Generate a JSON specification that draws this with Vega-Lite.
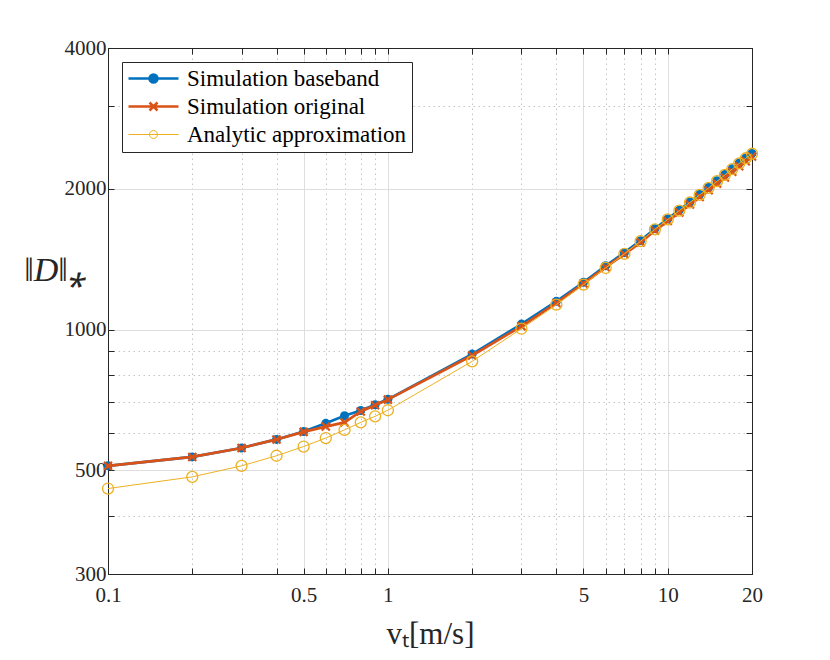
{
  "$schema": "https://vega.github.io/schema/vega-lite/v6.json",
  "width": 644,
  "height": 526,
  "autosize": {"type": "none"},
  "padding": {"left": 108, "top": 48, "right": 78, "bottom": 86},
  "background": "#ffffff",
  "config": {
    "view": {"stroke": "#262626", "strokeWidth": 1},
    "font": "Liberation Serif, serif"
  },
  "data": {
    "values": [
      {"v": 0.1, "series": "Simulation baseband", "D": 511},
      {"v": 0.2, "series": "Simulation baseband", "D": 534},
      {"v": 0.3, "series": "Simulation baseband", "D": 558},
      {"v": 0.4, "series": "Simulation baseband", "D": 582},
      {"v": 0.5, "series": "Simulation baseband", "D": 605},
      {"v": 0.6, "series": "Simulation baseband", "D": 630},
      {"v": 0.7, "series": "Simulation baseband", "D": 654},
      {"v": 0.8, "series": "Simulation baseband", "D": 671},
      {"v": 0.9, "series": "Simulation baseband", "D": 690},
      {"v": 1, "series": "Simulation baseband", "D": 709},
      {"v": 2, "series": "Simulation baseband", "D": 886},
      {"v": 3, "series": "Simulation baseband", "D": 1027},
      {"v": 4, "series": "Simulation baseband", "D": 1149},
      {"v": 5, "series": "Simulation baseband", "D": 1262},
      {"v": 6, "series": "Simulation baseband", "D": 1369},
      {"v": 7, "series": "Simulation baseband", "D": 1460},
      {"v": 8, "series": "Simulation baseband", "D": 1549},
      {"v": 9, "series": "Simulation baseband", "D": 1643},
      {"v": 10, "series": "Simulation baseband", "D": 1724},
      {"v": 11, "series": "Simulation baseband", "D": 1800},
      {"v": 12, "series": "Simulation baseband", "D": 1873},
      {"v": 13, "series": "Simulation baseband", "D": 1944},
      {"v": 14, "series": "Simulation baseband", "D": 2013},
      {"v": 15, "series": "Simulation baseband", "D": 2080},
      {"v": 16, "series": "Simulation baseband", "D": 2145},
      {"v": 17, "series": "Simulation baseband", "D": 2208},
      {"v": 18, "series": "Simulation baseband", "D": 2270},
      {"v": 19, "series": "Simulation baseband", "D": 2328},
      {"v": 20, "series": "Simulation baseband", "D": 2380},
      {"v": 0.1, "series": "Simulation original", "D": 511},
      {"v": 0.2, "series": "Simulation original", "D": 534},
      {"v": 0.3, "series": "Simulation original", "D": 558},
      {"v": 0.4, "series": "Simulation original", "D": 582},
      {"v": 0.5, "series": "Simulation original", "D": 604},
      {"v": 0.6, "series": "Simulation original", "D": 620},
      {"v": 0.7, "series": "Simulation original", "D": 633},
      {"v": 0.8, "series": "Simulation original", "D": 668},
      {"v": 0.9, "series": "Simulation original", "D": 689},
      {"v": 1, "series": "Simulation original", "D": 708},
      {"v": 2, "series": "Simulation original", "D": 880},
      {"v": 3, "series": "Simulation original", "D": 1016},
      {"v": 4, "series": "Simulation original", "D": 1139},
      {"v": 5, "series": "Simulation original", "D": 1254},
      {"v": 6, "series": "Simulation original", "D": 1359},
      {"v": 7, "series": "Simulation original", "D": 1449},
      {"v": 8, "series": "Simulation original", "D": 1536},
      {"v": 9, "series": "Simulation original", "D": 1628},
      {"v": 10, "series": "Simulation original", "D": 1706},
      {"v": 11, "series": "Simulation original", "D": 1780},
      {"v": 12, "series": "Simulation original", "D": 1851},
      {"v": 13, "series": "Simulation original", "D": 1920},
      {"v": 14, "series": "Simulation original", "D": 1986},
      {"v": 15, "series": "Simulation original", "D": 2051},
      {"v": 16, "series": "Simulation original", "D": 2113},
      {"v": 17, "series": "Simulation original", "D": 2174},
      {"v": 18, "series": "Simulation original", "D": 2234},
      {"v": 19, "series": "Simulation original", "D": 2290},
      {"v": 20, "series": "Simulation original", "D": 2344},
      {"v": 0.1, "series": "Analytic approximation", "D": 457},
      {"v": 0.2, "series": "Analytic approximation", "D": 484},
      {"v": 0.3, "series": "Analytic approximation", "D": 511},
      {"v": 0.4, "series": "Analytic approximation", "D": 537},
      {"v": 0.5, "series": "Analytic approximation", "D": 562},
      {"v": 0.6, "series": "Analytic approximation", "D": 586},
      {"v": 0.7, "series": "Analytic approximation", "D": 610},
      {"v": 0.8, "series": "Analytic approximation", "D": 633},
      {"v": 0.9, "series": "Analytic approximation", "D": 652},
      {"v": 1, "series": "Analytic approximation", "D": 672},
      {"v": 2, "series": "Analytic approximation", "D": 855},
      {"v": 3, "series": "Analytic approximation", "D": 1004},
      {"v": 4, "series": "Analytic approximation", "D": 1130},
      {"v": 5, "series": "Analytic approximation", "D": 1247},
      {"v": 6, "series": "Analytic approximation", "D": 1354},
      {"v": 7, "series": "Analytic approximation", "D": 1451},
      {"v": 8, "series": "Analytic approximation", "D": 1545},
      {"v": 9, "series": "Analytic approximation", "D": 1638},
      {"v": 10, "series": "Analytic approximation", "D": 1720},
      {"v": 11, "series": "Analytic approximation", "D": 1796},
      {"v": 12, "series": "Analytic approximation", "D": 1869},
      {"v": 13, "series": "Analytic approximation", "D": 1940},
      {"v": 14, "series": "Analytic approximation", "D": 2009},
      {"v": 15, "series": "Analytic approximation", "D": 2076},
      {"v": 16, "series": "Analytic approximation", "D": 2141},
      {"v": 17, "series": "Analytic approximation", "D": 2204},
      {"v": 18, "series": "Analytic approximation", "D": 2266},
      {"v": 19, "series": "Analytic approximation", "D": 2324},
      {"v": 20, "series": "Analytic approximation", "D": 2376}
    ]
  },
  "encoding": {
    "color": {
      "field": "series",
      "type": "nominal",
      "scale": {
        "domain": ["Simulation baseband", "Simulation original", "Analytic approximation"],
        "range": ["#0072BD", "#D95319", "#EDB120"]
      },
      "legend": {
        "title": null,
        "orient": "none",
        "legendX": 14,
        "legendY": 14,
        "fillColor": "#ffffff",
        "strokeColor": "#262626",
        "padding": 5,
        "symbolType": "M-1,0H4",
        "symbolSize": 400,
        "symbolStrokeWidth": 2.5,
        "labelFont": "Liberation Serif, serif",
        "labelFontSize": 23,
        "labelColor": "#000000",
        "labelLimit": 0,
        "labelOffset": 37,
        "rowPadding": 4,
        "encode": {
          "symbols": {
            "update": {
              "shape": {"signal": "datum.value === 'Simulation original' ? 'M-1,0H4M1.1,-0.4L1.9,0.4M1.1,0.4L1.9,-0.4' : 'M-1,0H4M1.9,0A0.4,0.4,0,1,1,1.1,0A0.4,0.4,0,1,1,1.9,0Z'"},
              "fill": {"signal": "datum.value === 'Simulation baseband' ? '#0072BD' : 'transparent'"},
              "fillOpacity": {"signal": "datum.value === 'Simulation baseband' ? 1 : 0"},
              "stroke": {"signal": "datum.value === 'Simulation baseband' ? '#0072BD' : datum.value === 'Simulation original' ? '#D95319' : '#EDB120'"},
              "strokeWidth": {"signal": "datum.value === 'Analytic approximation' ? 1 : 2.5"},
              "opacity": {"value": 1}
            }
          }
        }
      }
    }
  },
  "resolve": {"axis": {"x": "independent", "y": "independent"}},
  "layer": [
    {
      "transform": [{"filter": "datum.series === 'Simulation baseband'"}],
      "mark": {"type": "line", "strokeWidth": 2.7},
      "encoding": {
        "x": {
          "field": "v",
          "type": "quantitative",
          "scale": {"type": "log", "domain": [0.1, 20], "nice": false},
          "axis": {
            "orient": "bottom",
            "title": "vₜ[m/s]",
            "titleFont": "Liberation Serif, serif",
            "titleFontSize": 31,
            "titleFontWeight": "normal",
            "titleColor": "#262626",
            "titleY": 60,
            "titleBaseline": "middle",
            "values": [0.1, 0.2, 0.3, 0.4, 0.5, 0.6, 0.7, 0.8, 0.9, 1, 2, 3, 4, 5, 6, 7, 8, 9, 10, 20],
            "labelExpr": "indexof([0.1, 0.5, 1, 5, 10, 20], datum.value) >= 0 ? format(datum.value, '~g') : ''",
            "labelFont": "Liberation Serif, serif",
            "labelFontSize": 21,
            "labelColor": "#262626",
            "labelFlush": false,
            "labelOverlap": false,
            "labelPadding": 16,
            "domainColor": "#262626",
            "tickColor": "#262626",
            "tickSize": -6,
            "grid": true,
            "gridOpacity": {"condition": {"test": "datum.value == 0.1 || datum.value == 20", "value": 0}, "value": 1},
            "gridColor": {"condition": {"test": "indexof([0.5, 1, 5, 10], datum.value) >= 0", "value": "#dedede"}, "value": "#c4c4c4"},
            "gridDash": {"condition": {"test": "indexof([0.5, 1, 5, 10], datum.value) >= 0", "value": []}, "value": [1.5, 3.5]}
          }
        },
        "y": {
          "field": "D",
          "type": "quantitative",
          "scale": {"type": "log", "domain": [300, 4000], "nice": false},
          "axis": {
            "orient": "left",
            "title": "‖D‖⁎",
            "titleFont": "Liberation Serif, serif",
            "titleFontSize": 34,
            "titleFontStyle": "italic",
            "titleFontWeight": "normal",
            "titleColor": "#262626",
            "titleAngle": 0,
            "titleX": -53,
            "titleY": 222,
            "titleAlign": "center",
            "titleBaseline": "middle",
            "values": [300, 400, 500, 600, 700, 800, 900, 1000, 2000, 3000, 4000],
            "labelExpr": "indexof([300, 500, 1000, 2000, 4000], datum.value) >= 0 ? format(datum.value, 'd') : ''",
            "labelFont": "Liberation Serif, serif",
            "labelFontSize": 21,
            "labelColor": "#262626",
            "labelFlush": false,
            "labelOverlap": false,
            "labelPadding": 8,
            "domainColor": "#262626",
            "tickColor": "#262626",
            "tickSize": -6,
            "grid": true,
            "gridOpacity": {"condition": {"test": "datum.value == 300 || datum.value == 4000", "value": 0}, "value": 1},
            "gridColor": {"condition": {"test": "indexof([500, 1000, 2000], datum.value) >= 0", "value": "#dedede"}, "value": "#c4c4c4"},
            "gridDash": {"condition": {"test": "indexof([500, 1000, 2000], datum.value) >= 0", "value": []}, "value": [1.5, 3.5]}
          }
        }
      }
    },
    {
      "transform": [{"filter": "datum.series === 'Simulation baseband'"}],
      "mark": {"type": "point", "shape": "circle", "filled": true, "size": 81, "opacity": 1},
      "encoding": {
        "x": {
          "field": "v",
          "type": "quantitative",
          "scale": {"type": "log", "domain": [0.1, 20], "nice": false},
          "axis": {
            "orient": "top",
            "title": null,
            "values": [0.1, 0.2, 0.3, 0.4, 0.5, 0.6, 0.7, 0.8, 0.9, 1, 2, 3, 4, 5, 6, 7, 8, 9, 10, 20],
            "labels": false,
            "grid": false,
            "domainColor": "#262626",
            "tickColor": "#262626",
            "tickSize": -6
          }
        },
        "y": {
          "field": "D",
          "type": "quantitative",
          "scale": {"type": "log", "domain": [300, 4000], "nice": false},
          "axis": {
            "orient": "right",
            "title": null,
            "values": [300, 400, 500, 600, 700, 800, 900, 1000, 2000, 3000, 4000],
            "labels": false,
            "grid": false,
            "domainColor": "#262626",
            "tickColor": "#262626",
            "tickSize": -6
          }
        }
      }
    },
    {
      "transform": [{"filter": "datum.series === 'Simulation original'"}],
      "mark": {"type": "line", "strokeWidth": 2.7},
      "encoding": {
        "x": {"field": "v", "type": "quantitative", "axis": null},
        "y": {"field": "D", "type": "quantitative", "axis": null}
      }
    },
    {
      "transform": [{"filter": "datum.series === 'Simulation original'"}],
      "mark": {"type": "point", "shape": "M-1,-1L1,1M-1,1L1,-1", "filled": false, "size": 64, "strokeWidth": 2.2, "opacity": 1},
      "encoding": {
        "x": {"field": "v", "type": "quantitative", "axis": null},
        "y": {"field": "D", "type": "quantitative", "axis": null}
      }
    },
    {
      "transform": [{"filter": "datum.series === 'Analytic approximation'"}],
      "mark": {"type": "line", "strokeWidth": 1},
      "encoding": {
        "x": {"field": "v", "type": "quantitative", "axis": null},
        "y": {"field": "D", "type": "quantitative", "axis": null}
      }
    },
    {
      "transform": [{"filter": "datum.series === 'Analytic approximation'"}],
      "mark": {"type": "point", "shape": "circle", "filled": false, "size": 121, "strokeWidth": 1.3, "opacity": 1},
      "encoding": {
        "x": {"field": "v", "type": "quantitative", "axis": null},
        "y": {"field": "D", "type": "quantitative", "axis": null}
      }
    }
  ]
}
